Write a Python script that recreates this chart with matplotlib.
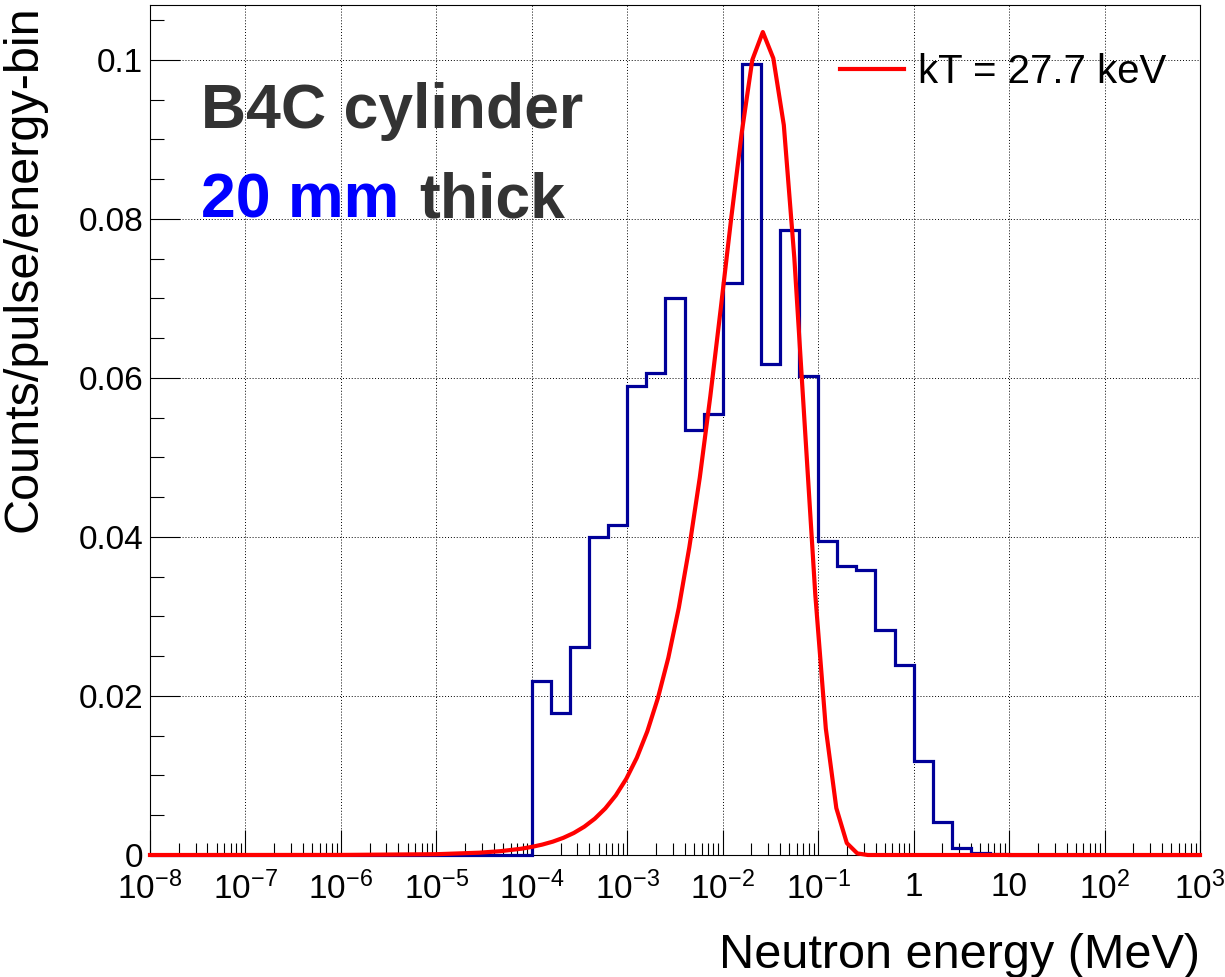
import numpy as np
import matplotlib
matplotlib.use("Agg")
import matplotlib.pyplot as plt
from matplotlib.ticker import FixedLocator, FuncFormatter, MultipleLocator, LogLocator, NullFormatter

plt.rcParams['font.family'] = ['Liberation Sans', 'DejaVu Sans']
plt.rcParams['mathtext.fontset'] = 'custom'
plt.rcParams['mathtext.rm'] = 'Liberation Sans'
plt.rcParams['mathtext.it'] = 'Liberation Sans:italic'
plt.rcParams['mathtext.bf'] = 'Liberation Sans:bold'

# histogram, 5 bins per decade from 1e-8 to 1e3 MeV
bin_edges = np.logspace(-8, 3, 56)
counts = [0.0] * 20 + [
    0.0219, 0.0178, 0.0262, 0.0400, 0.0415,   # 1e-4 .. 1e-3
    0.0590, 0.0606, 0.0700, 0.0535, 0.0554,   # 1e-3 .. 1e-2
    0.0720, 0.0995, 0.0618, 0.0786, 0.0603,   # 1e-2 .. 1e-1
    0.0395, 0.0364, 0.0359, 0.0283, 0.0239,   # 1e-1 .. 1
    0.0118, 0.0041, 0.0009, 0.0003, 0.0001,   # 1 .. 10
] + [0.0] * 10

# Maxwellian curve (log10 of energy in MeV, value)
fit_log_e = [-8.0, -6.0, -5.0, -4.55, -4.33, -4.11, -4.00, -3.89, -3.78, -3.67,
             -3.56, -3.45, -3.34, -3.23, -3.12, -3.01, -2.90, -2.79, -2.68, -2.57,
             -2.46, -2.35, -2.24, -2.13, -2.02, -1.91, -1.80, -1.69, -1.58, -1.47,
             -1.36, -1.25, -1.14, -1.03, -0.92, -0.81, -0.70, -0.59, -0.48, 3.0]
fit_vals = [0.0, 0.00001, 0.0001, 0.00029, 0.00048, 0.00079, 0.00102, 0.00131, 0.00168, 0.00216,
            0.00277, 0.00356, 0.00457, 0.00586, 0.00750, 0.00959, 0.01223, 0.01555, 0.0197, 0.0248,
            0.0311, 0.0387, 0.0475, 0.0577, 0.0688, 0.0802, 0.0909, 0.1000, 0.1035, 0.1002,
            0.0918, 0.0751, 0.0539, 0.0327, 0.0159, 0.0059, 0.0015, 0.0002, 0.0, 0.0]
fit_label = 'kT = 27.7 keV'

W, H = 1225, 977
fig = plt.figure(figsize=(W / 100, H / 100), dpi=100)
ax = fig.add_axes([150 / W, 1 - 855 / H, 1050 / W, 850 / H])

ax.stairs(counts, bin_edges, baseline=0, color='#000099', lw=2.3, clip_on=False, zorder=3)
ax.plot(10.0 ** np.array(fit_log_e), fit_vals, color='red', lw=3, label=fit_label,
        clip_on=False, zorder=4)

ax.set_xscale('log')
ax.set_xlim(1e-8, 1e3)
ax.set_ylim(0, 0.1069)

ax.xaxis.set_major_locator(FixedLocator(10.0 ** np.arange(-8, 4)))
ax.xaxis.set_minor_locator(LogLocator(base=10, subs=np.arange(2, 10), numticks=100))
ax.xaxis.set_minor_formatter(NullFormatter())


def fmt_x(v, pos):
    e = int(round(np.log10(v)))
    if e == 0:
        return '1'
    if e == 1:
        return '10'
    return r'$10^{%d}$' % e


ax.xaxis.set_major_formatter(FuncFormatter(fmt_x))
ax.yaxis.set_major_locator(MultipleLocator(0.02))
ax.yaxis.set_minor_locator(MultipleLocator(0.005))
ax.yaxis.set_major_formatter(FuncFormatter(lambda v, p: '%g' % round(v, 3)))

ax.tick_params(which='both', direction='in', top=False, right=False, width=0.8, labelsize=24)
ax.tick_params(axis='x', which='major', length=18, pad=12)
ax.tick_params(axis='x', which='minor', length=8.6)
ax.tick_params(axis='y', which='major', length=21.6, pad=5)
ax.tick_params(axis='y', which='minor', length=10)
for s in ax.spines.values():
    s.set_linewidth(0.8)

ax.grid(True, which='major', linestyle=(0, (1, 2)), color='black', lw=0.7)
ax.set_axisbelow(True)

ax.legend(loc='center left', bbox_to_anchor=(0.657, 0.921), frameon=False, fontsize=29,
          handlelength=1.6, handletextpad=0.35, borderpad=0, borderaxespad=0)

fig.text(1200 / W, 1 - 968 / H, 'Neutron energy (MeV)', fontsize=35, ha='right', va='baseline')
fig.text(24 / W, 1 - 5 / H, 'Counts/pulse/energy-bin', fontsize=35, rotation=90,
         ha='center', va='top')

fig.text(201 / W, 1 - 128 / H, 'B4C cylinder', fontsize=45, fontweight='bold',
         color='#333333', ha='left', va='baseline')
fig.text(201 / W, 1 - 218 / H, '20 mm', fontsize=45, fontweight='bold',
         color='#0000ff', ha='left', va='baseline')
fig.text(419 / W, 1 - 218 / H, 'thick', fontsize=45, fontweight='bold',
         color='#333333', ha='left', va='baseline')

fig.savefig('out.png', dpi=100)
